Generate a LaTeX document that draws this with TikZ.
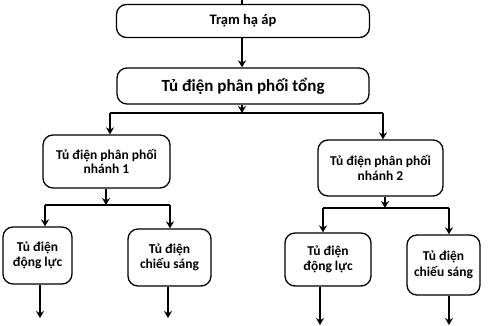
\documentclass[tikz,border=0pt]{standalone}
\usepackage{fontspec}
\setmainfont{Carlito}
\usetikzlibrary{arrows.meta}
\begin{document}
\begin{tikzpicture}[x=1pt, y=-1pt,
  box/.style={draw, line width=1.3pt, rounded corners=10pt, align=center, inner sep=0pt, font=\bfseries\fontsize{13.5}{14.5}\selectfont},
  arr/.style={line width=1.3pt, -{Stealth[length=7pt, width=8pt]}},
  bar/.style={line width=1.3pt}]
\useasboundingbox (0,0) rectangle (493,326);
% upper part
\node[box, minimum width=253pt, minimum height=33pt, font=\bfseries\fontsize{14.5}{16}\selectfont] (tram) at (243,21) {Trạm hạ áp};
\node[box, minimum width=252pt, minimum height=36pt, font=\bfseries\fontsize{17}{19}\selectfont] (tong) at (243,86) {Tủ điện phân phối tổng};
% branch boxes
\node[box, minimum width=127pt, minimum height=53pt] (nh1) at (106.5,161.5) {Tủ điện phân phối\\nhánh 1};
\node[box, minimum width=125pt, minimum height=56pt] (nh2) at (380.5,168) {Tủ điện phân phối\\nhánh 2};
\node[box, minimum width=69pt, minimum height=57pt, font=\bfseries\fontsize{13.5}{15.5}\selectfont] (dl1) at (37.5,255.5) {Tủ điện\\động lực};
\node[box, minimum width=83pt, minimum height=57pt, font=\bfseries\fontsize{13.5}{15.5}\selectfont] (cs1) at (169.5,257.5) {Tủ điện\\chiếu sáng};
\node[box, minimum width=86pt, minimum height=53pt, font=\bfseries\fontsize{13.5}{15.5}\selectfont] (dl2) at (328,259.5) {Tủ điện\\động lực};
\node[box, minimum width=73pt, minimum height=60pt, font=\bfseries\fontsize{13.5}{15.5}\selectfont] (cs2) at (443.5,265) {Tủ điện\\chiếu sáng};
% junctions
\coordinate (in) at (242,0);
\coordinate (j0) at (242,113);
\coordinate (b0l) at (110,113);
\coordinate (b0r) at (383,113);
\coordinate (j1) at (106,205);
\coordinate (b1l) at (45,205);
\coordinate (b1r) at (170,205);
\coordinate (j2) at (385,208);
\coordinate (b2l) at (323,208);
\coordinate (b2r) at (449,208);
\coordinate (o1) at (40,318);
\coordinate (o2) at (168,318);
\coordinate (o3) at (320,325);
\coordinate (o4) at (449,325);
% connectors
\draw[bar] (in) -- (tram.north -| in);
\draw[arr] (tram.south -| j0) -- (tong.north -| j0);
\draw[arr] (tong.south -| j0) -- (j0);
\draw[bar] (b0l) -- (b0r);
\draw[arr] (b0l) -- (b0l |- nh1.north);
\draw[arr] (b0r) -- (b0r |- nh2.north);
\draw[arr] (nh1.south -| j1) -- (j1);
\draw[bar] (b1l) -- (b1r);
\draw[arr] (b1l) -- (b1l |- dl1.north);
\draw[arr] (b1r) -- (b1r |- cs1.north);
\draw[arr] (nh2.south -| j2) -- (j2);
\draw[bar] (b2l) -- (b2r);
\draw[arr] (b2l) -- (b2l |- dl2.north);
\draw[arr] (b2r) -- (b2r |- cs2.north);
\draw[arr] (dl1.south -| o1) -- (o1);
\draw[arr] (cs1.south -| o2) -- (o2);
\draw[arr] (dl2.south -| o3) -- (o3);
\draw[arr] (cs2.south -| o4) -- (o4);
\end{tikzpicture}
\end{document}
